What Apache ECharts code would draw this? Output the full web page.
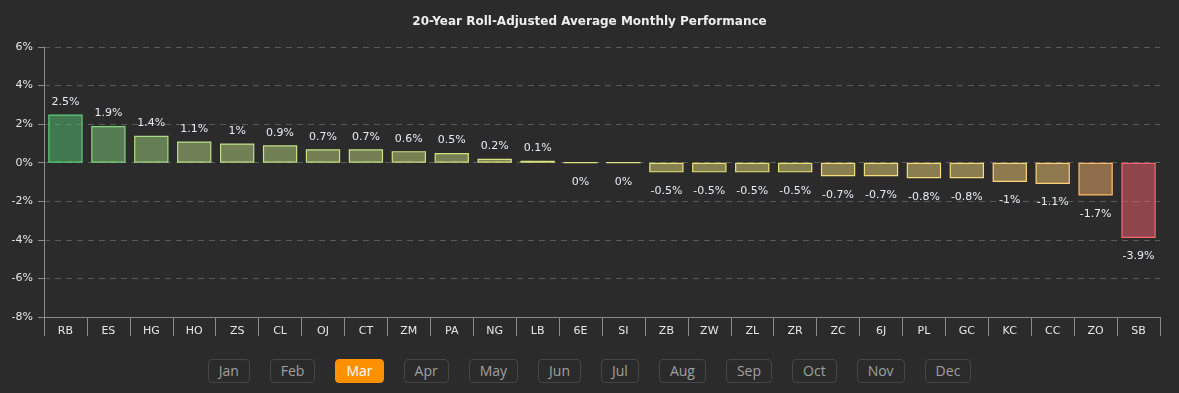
<!DOCTYPE html>
<html><head><meta charset="utf-8">
<script src="https://cdn.jsdelivr.net/npm/echarts@6/dist/echarts.min.js"></script>
<style>
html,body{margin:0;padding:0;background:#2b2b2b;width:1179px;height:393px;overflow:hidden;font-family:"DejaVu Sans",sans-serif;}
#chart{width:1179px;height:345px;}
#months{display:flex;justify-content:center;gap:20px;margin-top:14px;}
#months div{height:22px;line-height:22px;padding:0 10px;border:1px solid #464646;border-radius:4px;color:#a0a0a0;font-size:14px;font-family:"Open Sans","DejaVu Sans",sans-serif;}
#months div.on{background:#ff9100;border-color:#ff9100;color:#fff;}
</style></head><body>
<div id="chart"></div>
<div id="months"></div>
<script>
const title = "20-Year Roll-Adjusted Average Monthly Performance";
const categories = ["RB","ES","HG","HO","ZS","CL","OJ","CT","ZM","PA","NG","LB","6E","SI","ZB","ZW","ZL","ZR","ZC","6J","PL","GC","KC","CC","ZO","SB"];
const values = [2.5,1.9,1.4,1.1,1,0.9,0.7,0.7,0.6,0.5,0.2,0.1,0,0,-0.5,-0.5,-0.5,-0.5,-0.7,-0.7,-0.8,-0.8,-1,-1.1,-1.7,-3.9];
const yTicks = [-8,-6,-4,-2,0,2,4,6];
const months = ["Jan","Feb","Mar","Apr","May","Jun","Jul","Aug","Sep","Oct","Nov","Dec"];
const activeMonth = "Mar";

// color ramp (style only)
const stops = [[-3.9,[255,100,115]],[-1.7,[255,185,110]],[-1.0,[255,212,122]],[-0.5,[236,226,122]],[0.7,[200,226,130]],[1.1,[190,225,135]],[2.5,[92,208,122]]];
function rampColor(v){
  if(v<=stops[0][0]) return stops[0][1];
  for(let i=1;i<stops.length;i++){
    if(v<=stops[i][0]){
      const a=stops[i-1],b=stops[i],t=(v-a[0])/(b[0]-a[0]);
      return a[1].map((c,k)=>Math.round(c+(b[1][k]-c)*t));
    }
  }
  return stops[stops.length-1][1];
}
const data = values.map(v=>{
  const c = rampColor(v);
  return {
    value:v,
    itemStyle:{color:`rgba(${c[0]},${c[1]},${c[2]},0.47)`,borderColor:`rgb(${c[0]},${c[1]},${c[2]})`,borderWidth:1.2},
    label:{position:v>0?'top':'bottom',distance:v>0?7:13}
  };
});

const chart = echarts.init(document.getElementById('chart'));
chart.setOption({
  backgroundColor:'#2b2b2b',
  animation:false,
  title:{text:title,left:'center',top:11,textStyle:{color:'#eeeeee',fontSize:12,fontWeight:'bold',fontFamily:'DejaVu Sans'}},
  grid:{left:44,right:19,top:47,bottom:28},
  xAxis:{type:'category',data:categories,
    axisLine:{onZero:false,lineStyle:{color:'#8a8a8a'}},
    axisTick:{show:true,length:19,lineStyle:{color:'#8a8a8a'}},
    axisLabel:{color:'#e6e6e6',fontSize:11,fontFamily:'DejaVu Sans',margin:9}},
  yAxis:{type:'value',min:yTicks[0],max:yTicks[yTicks.length-1],interval:2,
    axisLine:{show:true,lineStyle:{color:'#8a8a8a'}},
    axisTick:{show:true,length:6,lineStyle:{color:'#8a8a8a'}},
    axisLabel:{color:'#e6e6e6',fontSize:11,fontFamily:'DejaVu Sans',margin:11,formatter:v=>v+'%'},
    splitLine:{lineStyle:{color:'#5a5a5a',type:[6,5]}}},
  series:[{type:'bar',data:data,barWidth:'80%',
    label:{show:true,color:'#e6ecf5',fontSize:11,fontFamily:'DejaVu Sans',formatter:p=>p.value+'%'}}]
});

const m = document.getElementById('months');
months.forEach(n=>{const d=document.createElement('div');d.textContent=n;if(n===activeMonth)d.className='on';m.appendChild(d);});
</script>
</body></html>
